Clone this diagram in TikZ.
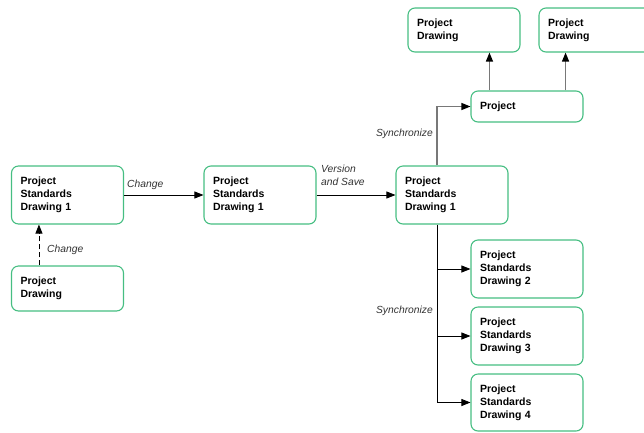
\documentclass[tikz,border=0pt]{standalone}
\usepackage{fontspec}
\setmainfont{Liberation Sans}
\usepackage{tikz}
\usetikzlibrary{arrows.meta,positioning,calc}
\definecolor{boxgreen}{RGB}{70,190,130}
\definecolor{labelgray}{RGB}{50,50,50}
\definecolor{linegray}{RGB}{120,120,120}

\begin{document}
\begin{tikzpicture}[
    x=1pt, y=-1pt,
    doc/.style={draw=boxgreen, line width=1.1pt, rounded corners=7pt, fill=white,
        minimum width=112pt, text width=94pt, inner xsep=9pt, inner ysep=0pt,
        align=left, font=\bfseries\fontsize{10.5}{13}\selectfont},
    arr/.style={-{Triangle[length=9pt,width=7pt]}, line width=0.8pt, black},
    garr/.style={-{Triangle[length=9pt,width=7pt,color=black]}, line width=1.2pt, linegray},
    lbl/.style={inner sep=0pt, text=labelgray, font=\itshape\fontsize{10.3}{12.5}\selectfont}
]
\useasboundingbox (0,0) rectangle (644,432);

\node[doc, minimum height=58pt] (std1a) at (67.5,195) {Project\\Standards\\Drawing 1};
\node[doc, minimum height=45pt] (projdrw) at (67.5,288.5) {Project\\Drawing};
\node[doc, minimum height=58pt] (std1b) at (260,195) {Project\\Standards\\Drawing 1};
\node[doc, minimum height=58pt] (std1c) at (452,195) {Project\\Standards\\Drawing 1};
\node[doc, minimum height=31pt] (proj) at (527,106.5) {Project};
\node[doc, minimum height=44pt] (drwa) at (464,30) {Project\\Drawing};
\node[doc, minimum height=44pt] (drwb) at (595,30) {Project\\Drawing};
\node[doc, minimum height=58pt] (std2) at (527,269) {Project\\Standards\\Drawing 2};
\node[doc, minimum height=58pt] (std3) at (527,336) {Project\\Standards\\Drawing 3};
\node[doc, minimum height=57pt] (std4) at (527,402.5) {Project\\Standards\\Drawing 4};

\node[lbl, anchor=base west] (chg1) at (127,187) {Change};
\node[lbl, anchor=base west] (chg2) at (47,252) {Change};
\node[lbl, anchor=north west, align=left] (vers) at (321,165) {Version\\and Save};
\node[lbl, anchor=base east] (sync1) at (433,136) {Synchronize};
\node[lbl, anchor=base east] (sync2) at (433,313) {Synchronize};

\coordinate (up) at ([xshift=-15pt]std1c.north);
\coordinate (trunk) at ([xshift=-15pt]std1c.south);
\coordinate (pa) at ([xshift=19pt]proj.north west);
\coordinate (pb) at ([xshift=-18pt]proj.north east);
\coordinate (dash) at ([xshift=28pt]projdrw.north west);

\draw[arr] (std1a) -- (std1b);
\draw[arr, dash pattern=on 5pt off 3pt] (dash) -- (dash |- std1a.south);
\draw[arr] (std1b) -- (std1c);
\draw[garr] (up) |- (proj.west);
\draw[garr] (pa) -- (pa |- drwa.south);
\draw[garr] (pb) -- (pb |- drwb.south);
\draw[arr] (trunk) |- (std4.west);
\draw[arr] (trunk |- std2.west) -- (std2.west);
\draw[arr] (trunk |- std3.west) -- (std3.west);
\end{tikzpicture}
\end{document}
